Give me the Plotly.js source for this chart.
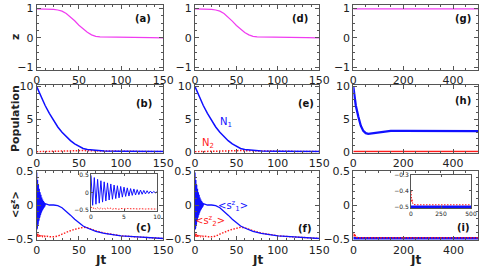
<!DOCTYPE html>
<html><head><meta charset="utf-8">
<script src="https://cdn.plot.ly/plotly-3.0.1.min.js"></script>
<style>html,body{margin:0;padding:0;background:#fff}#wrap{position:relative;width:485px;height:266px}#plot,#inset{position:absolute;left:0;top:0;width:485px;height:266px}#inset{pointer-events:none}</style>
</head><body><div id="wrap"><div id="plot"></div><div id="inset"></div></div>
<script>
// ---------- data ----------
// row 1: z(t)
const tZ = [0,10,20,25,30,35,40,45,50,55,60,65,70,75,80,90,100,110,120,135,150];
const zA = [0.99,0.99,0.97,0.95,0.91,0.83,0.72,0.58,0.43,0.30,0.19,0.10,0.05,0.03,0.03,0.03,0.02,0.015,0.01,0.005,0.0];
const zD = [0.99,0.99,0.97,0.95,0.91,0.83,0.71,0.57,0.42,0.29,0.18,0.10,0.05,0.03,0.03,0.03,0.02,0.015,0.01,0.005,0.0];
const tG = [0,500];
const zG = [0.99,0.99];
// row 2: populations
const tN = [0,5,10,15,20,25,30,35,40,45,50,55,60,70,80,100,120,150];
const n1 = [10,8.4,7.1,5.9,4.8,3.8,3.0,2.3,1.7,1.2,0.8,0.5,0.35,0.2,0.12,0.08,0.05,0.03];
const n2 = [0,0.02,0.05,0.08,0.1,0.13,0.15,0.17,0.2,0.2,0.2,0.18,0.15,0.12,0.1,0.07,0.05,0.03];
const tH = [0,5,10,20,30,40,50,60,70,80,100,120,150,200,300,400,500];
const n1H = [10,8.4,7.1,5.4,4.0,3.2,2.85,2.75,2.8,2.9,3.05,3.15,3.2,3.2,3.2,3.15,3.15];
const n2H = [0.03,0.03,0.03,0.03,0.03,0.03,0.03,0.03,0.03,0.03,0.03,0.03,0.03,0.03,0.03,0.03,0.03];
// row 3: <s^z>, fast oscillating part (0..10) and slow part
const tOsc = [0,0.25,0.5,0.75,1,1.25,1.5,1.75,2,2.25,2.5,2.75,3,3.25,3.5,3.75,4,4.25,4.5,4.75,5,5.25,5.5,5.75,6,6.25,6.5,6.75,7,7.25,7.5,7.75,8,8.25,8.5,8.75,9,9.25,9.5,9.75,10];
const s1Osc = [0.48,-0.36,0.42,-0.33,0.37,-0.30,0.33,-0.27,0.30,-0.24,0.27,-0.21,0.24,-0.19,0.21,-0.17,0.19,-0.15,0.17,-0.13,0.15,-0.11,0.13,-0.10,0.11,-0.08,0.10,-0.07,0.08,-0.06,0.07,-0.05,0.06,-0.04,0.05,-0.03,0.04,-0.02,0.03,-0.01,0.02];
const s2Osc = [-0.40,-0.46,-0.42,-0.47,-0.43,-0.47,-0.43,-0.46,-0.44,-0.47,-0.44,-0.46,-0.44,-0.47,-0.45,-0.46,-0.45,-0.47,-0.45,-0.46,-0.45,-0.46,-0.45,-0.46,-0.45,-0.46,-0.455,-0.465,-0.455,-0.465,-0.455,-0.465,-0.46,-0.465,-0.46,-0.465,-0.46,-0.465,-0.46,-0.465,-0.46];
const tSlow = [12,15,20,25,30,35,40,45,50,55,60,65,70,80,90,100,110,120,130,140,150];
const s1Slow = [0.01,0.0,0.0,-0.01,-0.04,-0.09,-0.15,-0.21,-0.26,-0.31,-0.34,-0.37,-0.39,-0.42,-0.44,-0.455,-0.465,-0.475,-0.483,-0.49,-0.495];
const s2Slow = [-0.46,-0.47,-0.47,-0.46,-0.43,-0.40,-0.38,-0.36,-0.34,-0.33,-0.335,-0.36,-0.38,-0.415,-0.44,-0.455,-0.465,-0.475,-0.483,-0.49,-0.495];
const tI = [0,1,2,3,4,5,6,7,8,10,12,15,20,30,50,100,200,300,400,500];
const s2I = [-0.40,-0.46,-0.41,-0.47,-0.42,-0.47,-0.44,-0.47,-0.45,-0.47,-0.475,-0.48,-0.483,-0.485,-0.485,-0.485,-0.485,-0.485,-0.485,-0.485];
const s1I = [-0.497,-0.497];
const tIb = [0,500];
// tick labels
const ticks150 = [0,50,100,150];
const ticks500 = [0,200,400];
const ticksZ = [-1,0,1];
const ticksN = [0,5,10];
const ticksS = [-0.5,0,0.5];
const ticksInsC = [0,5,10];
const ticksInsI = [0,250,500];
const ticksInsIy = [-0.5,-0.4,-0.3];
const panelLabels = ['(a)','(b)','(c)','(d)','(e)','(f)','(g)','(h)','(i)'];

// ---------- build ----------
const W = 485, H = 266;
const MAG = '#f03cf0', BLUE = '#1010ff', RED = '#ff1a1a';
const DOT = '1.5px,1.5px';
const tC = tOsc.concat(tSlow), s1C = s1Osc.concat(s1Slow), s2C = s2Osc.concat(s2Slow);
const xd = (a,b)=>[a/W,b/W];
const yd = (top,bot)=>[1-bot/H,1-top/H];
const cols = [xd(36.7,163.3), xd(195,319.3), xd(353.3,478)];
const rows = [yd(5,70), yd(85,152.5), yd(170.5,239.5)];
const FONT = 'DejaVu Sans';

function ax(domain, range, tickvals, anchor, extra){
  return Object.assign({
    domain, range, tickvals, anchor,
    showline:true, mirror:'ticks', linecolor:'#555', linewidth:1,
    ticks:'inside', ticklen:4, tickcolor:'#555',
    tickfont:{family:FONT,size:11,color:'#222'},
    showgrid:false, zeroline:false, fixedrange:true
  }, extra||{});
}
const layout = {
  width:W, height:H, autosize:false, margin:{l:0,r:0,t:0,b:0},
  paper_bgcolor:'#fff', plot_bgcolor:'#fff', showlegend:false,
  font:{family:FONT}, annotations:[]
};
const xr = [[0,150],[0,150],[0,500]];
const xt = [ticks150,ticks150,ticks500];
const xminor = [10,10,50];
const yr = [[-1.1,1.12],[-0.12,10.25],[-0.51,0.51]];
const yt = [ticksZ,ticksN,ticksS];
const yminor = [0.25,1,0.1];
for(let r=0;r<3;r++){
  for(let c=0;c<3;c++){
    const i = r*3+c+1;
    const sx = i===1?'':i, sy = i===1?'':i;
    layout['xaxis'+sx] = ax(cols[c], xr[c], xt[c], 'y'+sy, {minor:{ticks:'inside',ticklen:2,dtick:xminor[c],tickcolor:'#555'}});
    layout['yaxis'+sy] = ax(rows[r], yr[r], yt[r], 'x'+sx, {minor:{ticks:'inside',ticklen:2,dtick:yminor[r],tickcolor:'#555'}});
  }
}
// the x tick labels of (i) are placed as annotations on the x9 scale
layout.xaxis9.showticklabels = false;
ticks500.forEach(v=>{
  layout.annotations.push({text:String(v), xref:'x9', yref:'paper', x:v, y:1-241.5/H, xanchor:'center', yanchor:'top',
    showarrow:false, font:{family:FONT,size:11,color:'#222'}});
});
// inset of (c)
const smallFont = {family:FONT,size:6,color:'#222'};
layout.xaxis10 = ax(xd(91,157), [0,10], ticksInsC, 'y10', {tickfont:smallFont, ticklen:2});
layout.yaxis10 = ax(yd(174,211), [-0.52,0.52], ticksS, 'x10', {tickfont:smallFont, ticklen:2});

const traces = [];
const line = (arr,x,y,xa,ya,color,w,dash)=>arr.push({x,y,xaxis:xa,yaxis:ya,type:'scatter',mode:'lines',line:{color,width:w,dash:dash||'solid'},hoverinfo:'skip'});
line(traces,tZ,zA,'x','y',MAG,1.2);
line(traces,tZ,zD,'x2','y2',MAG,1.2);
line(traces,tG,zG,'x3','y3',MAG,1.2);
line(traces,tN,n2,'x4','y4',RED,1.5,DOT);
line(traces,tN,n1,'x4','y4',BLUE,1.5);
line(traces,tN,n2,'x5','y5',RED,1.5,DOT);
line(traces,tN,n1,'x5','y5',BLUE,1.5);
line(traces,tH,n2H,'x6','y6',RED,1.5);
line(traces,tH,n1H,'x6','y6',BLUE,2.3);
line(traces,tC,s2C,'x7','y7',RED,1.4,DOT);
line(traces,tC,s1C,'x7','y7',BLUE,1.3);
line(traces,tC,s2C,'x8','y8',RED,1.4,DOT);
line(traces,tC,s1C,'x8','y8',BLUE,1.3);
line(traces,tIb,s1I,'x9','y9',BLUE,3);
line(traces,tI,s2I,'x9','y9',RED,1.5,DOT);
line(traces,tOsc,s2Osc,'x10','y10',RED,1,DOT);
line(traces,tOsc,s1Osc,'x10','y10',BLUE,1);

// panel labels
const lblPos = [[143,18],[144,103],[143,227],[300,18],[306,103],[305,228],[463,18],[463,100],[463,227]];
panelLabels.forEach((t,k)=>{
  layout.annotations.push({text:'<b>'+t+'</b>', xref:'paper', yref:'paper', x:lblPos[k][0]/W, y:1-lblPos[k][1]/H,
    xanchor:'center', yanchor:'middle', showarrow:false, font:{family:FONT,size:10,color:'#111'}});
});
// y titles
const yTitles = [['<b>z</b>',37,11],['<b>Population</b>',119,11],['<b>&lt;s<sup>z</sup>&gt;</b>',205,10]];
yTitles.forEach(([t,py,s])=>{
  layout.annotations.push({text:t, xref:'paper', yref:'paper', x:15/W, y:1-py/H, textangle:-90,
    xanchor:'center', yanchor:'middle', showarrow:false, font:{family:FONT,size:s,color:'#222'}});
});
// x titles
[100,257,415].forEach(px=>{
  layout.annotations.push({text:'<b>Jt</b>', xref:'paper', yref:'paper', x:px/W, y:1-259.5/H,
    xanchor:'center', yanchor:'middle', showarrow:false, font:{family:FONT,size:12,color:'#222'}});
});
// curve labels
layout.annotations.push({text:'N<sub>1</sub>', xref:'x5', yref:'y5', x:37, y:4.5, showarrow:false, font:{family:FONT,size:10,color:BLUE}});
layout.annotations.push({text:'N<sub>2</sub>', xref:'x5', yref:'y5', x:16, y:1.3, showarrow:false, font:{family:FONT,size:10,color:RED}});
layout.annotations.push({text:'&lt;s<sup>z</sup><sub>1</sub>&gt;', xref:'x8', yref:'y8', x:46, y:-0.01, showarrow:false, font:{family:FONT,size:10,color:BLUE}});
layout.annotations.push({text:'&lt;s<sup>z</sup><sub>2</sub>&gt;', xref:'x8', yref:'y8', x:18, y:-0.24, showarrow:false, font:{family:FONT,size:10,color:RED}});

Plotly.newPlot('plot', traces, layout, {staticPlot:true, displayModeBar:false});

// overlay chart: inset of (i)
const insetLayout = {
  width:W, height:H, autosize:false, margin:{l:0,r:0,t:0,b:0},
  paper_bgcolor:'rgba(0,0,0,0)', plot_bgcolor:'#fff', showlegend:false, font:{family:FONT},
  xaxis: ax(xd(411,471), [0,500], ticksInsI, 'y', {tickfont:smallFont, ticklen:2}),
  yaxis: ax(yd(174.7,208), [-0.505,-0.3], ticksInsIy, 'x', {tickfont:smallFont, ticklen:2})
};
const insetTraces = [];
line(insetTraces,tIb,s1I,'x','y',BLUE,2.5);
line(insetTraces,tI,s2I,'x','y',RED,1,DOT);
Plotly.newPlot('inset', insetTraces, insetLayout, {staticPlot:true, displayModeBar:false});
</script></body></html>
